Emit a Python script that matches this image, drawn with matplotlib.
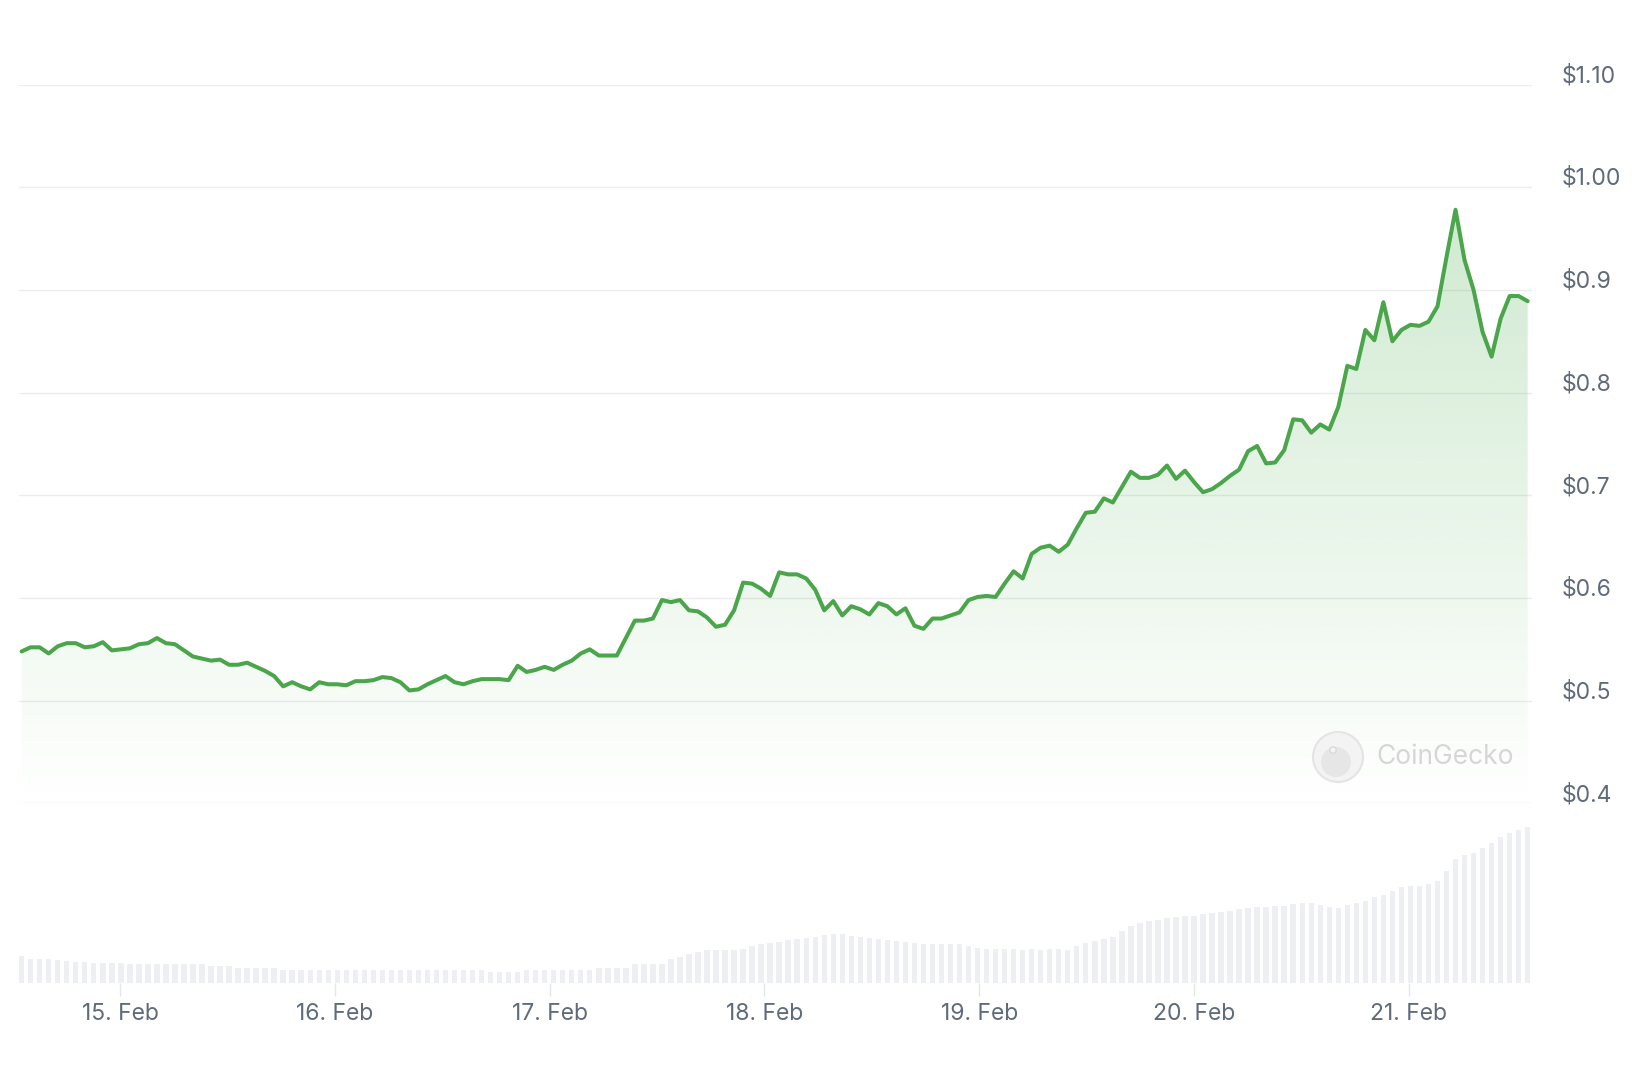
import matplotlib
matplotlib.use("Agg")
import matplotlib.pyplot as plt
import matplotlib.dates as mdates
import matplotlib.transforms as mtransforms
from matplotlib.patches import Circle, Ellipse, Polygon
import numpy as np
import pandas as pd

# ---------------- data ----------------
price_start = "2025-02-14 13:01"
price_end = "2025-02-21 13:17"

prices = [
    0.548, 0.552, 0.552, 0.546, 0.553, 0.556, 0.556, 0.552, 0.553, 0.557,
    0.549, 0.550, 0.551, 0.555, 0.556, 0.561, 0.556, 0.555, 0.549, 0.543,
    0.541, 0.539, 0.540, 0.535, 0.535, 0.537, 0.533, 0.529, 0.524, 0.514,
    0.518, 0.514, 0.511,
    0.518, 0.516, 0.516, 0.515, 0.519, 0.519, 0.520, 0.523, 0.522, 0.518,
    0.510, 0.511, 0.516, 0.520, 0.524, 0.518, 0.516, 0.519, 0.521, 0.521,
    0.521, 0.520, 0.534, 0.528, 0.530, 0.533, 0.530, 0.535, 0.539, 0.546,
    0.550, 0.544, 0.544, 0.544,
    0.561,
    0.578, 0.578, 0.580, 0.598, 0.596, 0.598, 0.588, 0.587, 0.581, 0.572,
    0.574, 0.588, 0.615, 0.614, 0.609, 0.602, 0.625, 0.623, 0.623, 0.619,
    0.608, 0.588, 0.597, 0.583, 0.592, 0.589, 0.584, 0.595, 0.592, 0.584,
    0.590, 0.573, 0.570,
    0.580, 0.580, 0.583, 0.586, 0.598, 0.601, 0.602, 0.601, 0.614, 0.626,
    0.619, 0.643, 0.649, 0.651, 0.645, 0.652, 0.668, 0.683, 0.684, 0.697,
    0.693, 0.708, 0.723, 0.717, 0.717, 0.720, 0.729, 0.716, 0.724, 0.713,
    0.703, 0.706,
    0.712,
    0.719, 0.725, 0.743, 0.748, 0.731, 0.732, 0.744, 0.774, 0.773, 0.761,
    0.769, 0.764, 0.786, 0.826, 0.823, 0.861, 0.851, 0.888, 0.850, 0.861,
    0.866, 0.865, 0.869, 0.884, 0.932, 0.978, 0.929, 0.900, 0.859, 0.835,
    0.872, 0.894, 0.894, 0.889,
]

# relative trading volume per hour (arbitrary units)
volumes = [
    26.7, 24.0, 23.5, 23.5, 23.0, 22.0, 21.0, 21.0, 20.0, 20.0,
    20.0, 20.0, 19.0, 19.0, 18.7, 18.7, 18.7, 18.7, 18.7, 18.7,
    18.7, 16.7, 16.7, 16.7, 14.7, 14.7, 14.7, 14.7, 14.7, 12.7,
    12.7, 12.7, 12.7, 12.7, 12.7, 12.7, 12.7, 12.7, 12.7, 12.7,
    12.7, 12.7, 12.7, 12.7, 12.7, 12.7, 12.7, 12.7, 12.7, 12.7,
    12.7, 12.7, 10.7, 10.7, 10.7, 10.7, 12.7, 12.7, 12.7, 12.7,
    12.7, 12.7, 12.7, 12.7, 14.7, 14.7, 14.7, 14.7, 18.7, 18.7,
    18.7, 18.7, 23.7, 26.0, 29.0, 30.5, 32.7, 32.7, 32.7, 33.0,
    34.0, 36.7, 38.7, 40.0, 41.0, 43.0, 43.5, 44.5, 46.0, 47.5,
    48.7, 48.7, 47.0, 46.0, 45.0, 44.0, 43.0, 42.0, 40.5, 39.5,
    38.7, 38.7, 38.7, 38.7, 38.7, 36.5, 35.0, 34.0, 34.0, 34.0,
    34.0, 33.0, 34.0, 33.0, 34.0, 34.0, 33.0, 37.0, 40.0, 42.0,
    44.0, 46.0, 52.0, 56.5, 59.5, 61.5, 63.0, 64.5, 66.0, 66.3,
    66.7, 68.4, 69.7, 71.0, 72.2, 73.3, 74.4, 75.4, 76.0, 76.5,
    77.0, 78.3, 80.0, 79.5, 78.0, 76.0, 74.4, 77.5, 80.0, 82.0,
    85.5, 88.0, 92.0, 95.5, 96.7, 97.0, 99.0, 102.0, 112.0, 124.0,
    127.7, 130.0, 135.0, 140.0, 146.0, 150.0, 152.7, 156.0,
]

price_ticks = [0.4, 0.5, 0.6, 0.7, 0.8, 0.9, 1.0, 1.1]
price_tick_labels = ["$0.4", "$0.5", "$0.6", "$0.7", "$0.8", "$0.9", "$1.00", "$1.10"]
date_ticks = ["2025-02-15", "2025-02-16", "2025-02-17", "2025-02-18",
              "2025-02-19", "2025-02-20", "2025-02-21"]
view_start = "2025-02-14 12:42"
view_end = "2025-02-21 13:46"

# ---------------- styling ----------------
W, H = 1636, 1072
DPI = 100
LINE = "#4aa54b"
GRID = "#ececec"
LABEL = "#5f6a7a"
BAR = "#edeff2"
FONT = ["Inter", "DejaVu Sans"]

plt.rcParams["font.family"] = FONT

fig = plt.figure(figsize=(W / DPI, H / DPI), dpi=DPI)
fig.patch.set_facecolor("white")

def fig_rect(left, top, right, bottom):
    return [left / W, 1 - bottom / H, (right - left) / W, (bottom - top) / H]

times = pd.date_range(price_start, price_end, periods=len(prices))
xnum = mdates.date2num(times.to_pydatetime())
x0 = mdates.date2num(pd.Timestamp(view_start).to_pydatetime())
x1 = mdates.date2num(pd.Timestamp(view_end).to_pydatetime())

# ---------------- price axes ----------------
ax = fig.add_axes(fig_rect(18.8, 84.5, 1532, 803.4))
ax.set_xlim(x0, x1)
ax.set_ylim(price_ticks[0], price_ticks[-1])
for s in ax.spines.values():
    s.set_visible(False)
ax.set_xticks([])
ax.set_yticks(price_ticks)
ax.set_yticklabels(price_tick_labels)
ax.yaxis.tick_right()
ax.tick_params(axis="y", length=0, pad=21.5, labelsize=16.5, labelcolor=LABEL)
offset = mtransforms.ScaledTranslation(0, 11 / DPI, fig.dpi_scale_trans)
for lab in ax.get_yticklabels():
    lab.set_transform(lab.get_transform() + offset)
for yv in price_ticks:
    ax.axhline(yv, color=GRID, lw=1.0, zorder=0)

# gradient fill below the line
ylo, yhi = price_ticks[0], price_ticks[-1]
ny = 400
alpha = np.linspace(0.32, 0.0, ny)[:, None]
grad = np.zeros((ny, 1, 4))
grad[..., 0] = 76 / 255
grad[..., 1] = 175 / 255
grad[..., 2] = 80 / 255
grad[..., 3] = alpha
im = ax.imshow(grad, aspect="auto", extent=[x0, x1, ylo, yhi],
               origin="upper", zorder=1, interpolation="bilinear")
verts = [(xnum[0], ylo)] + list(zip(xnum, prices)) + [(xnum[-1], ylo)]
poly = Polygon(verts, closed=True, facecolor="none", edgecolor="none")
ax.add_patch(poly)
im.set_clip_path(poly)

ax.plot(xnum, prices, color=LINE, lw=2.9, solid_joinstyle="round",
        solid_capstyle="round", zorder=3)

# watermark
wm = fig.add_axes([0, 0, 1, 1], facecolor="none")
wm.set_xlim(0, W)
wm.set_ylim(H, 0)
wm.axis("off")
wm.add_patch(Circle((1338, 757), 25, facecolor="#f3f3f3", edgecolor="#e4e4e4", lw=1.5, zorder=2))
wm.add_patch(Ellipse((1336, 762), 30, 30, facecolor="#e6e6e6", edgecolor="none", zorder=3))
wm.add_patch(Circle((1333, 750), 3.2, facecolor="#f5f5f5", edgecolor="#d8d8d8", lw=1, zorder=4))
wm.text(1376, 757, "CoinGecko", fontsize=19, color="#d6d6d6", va="center", ha="left")

# ---------------- volume axes ----------------
axv = fig.add_axes(fig_rect(18.8, 803.4, 1532, 982.7))
axv.set_xlim(x0, x1)
axv.set_ylim(0, 179.3)
for s in axv.spines.values():
    s.set_visible(False)
axv.set_yticks([])
bar_w = (xnum[1] - xnum[0]) * 0.6
axv.bar(xnum, volumes, width=bar_w, color=BAR, align="center", zorder=1)
axv.set_xticks(mdates.date2num(pd.to_datetime(date_ticks).to_pydatetime()))
axv.xaxis.set_major_formatter(mdates.DateFormatter("%d. %b"))
axv.tick_params(axis="x", length=9, width=1, color="#e4e6ea", pad=5.5,
                labelsize=16.5, labelcolor=LABEL)

fig.savefig("out.png", dpi=DPI, facecolor="white")
